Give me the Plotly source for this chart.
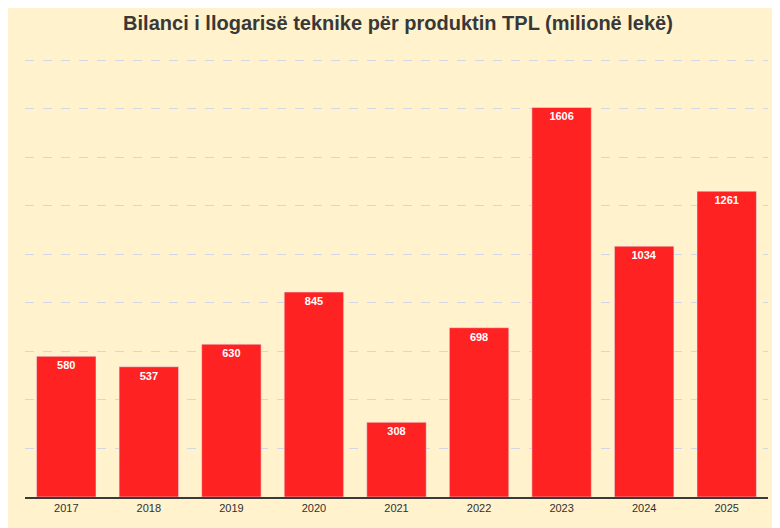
import plotly.graph_objects as go

years = ['2017', '2018', '2019', '2020', '2021', '2022', '2023', '2024', '2025']
values = [580, 537, 630, 845, 308, 698, 1606, 1034, 1261]

fig = go.Figure()
fig.add_trace(go.Bar(
    x=years, y=values, width=0.72,
    marker_color='#FF2222',
    text=[str(v) for v in values], textposition='inside',
    insidetextanchor='end',
    textfont=dict(color='white', size=11, family='Liberation Sans'),
    texttemplate='<b>%{text}</b>',
    cliponaxis=False,
))

fig.update_layout(
    width=780, height=528,
    paper_bgcolor='white', plot_bgcolor='rgba(0,0,0,0)',
    margin=dict(l=17, r=20, t=50, b=39, autoexpand=False),
    title=dict(text='<b>Bilanci i llogarisë teknike për produktin TPL (milionë lekë)</b>',
               x=0.5, xanchor='center', y=0.985, yanchor='top',
               font=dict(size=20, color='#383838', family='Liberation Sans')),
    xaxis=dict(showline=True, linecolor='#3a3a3a', linewidth=2, ticks='', automargin=False,
               tickfont=dict(size=11, color='#303030', family='Liberation Sans')),
    yaxis=dict(range=[0, 1810], dtick=200, showticklabels=False, automargin=False,
               gridcolor='#D0D8E8', griddash='dash', zeroline=False),
    showlegend=False,
    shapes=[dict(type='rect', xref='paper', yref='paper', layer='below',
                 x0=-17 / 743, x1=(772 - 17) / 743, y0=-(520 - 489) / 439, y1=50 / 439 + 1,
                 fillcolor='#FFF2CC', line_width=0)],
)

fig.write_html('out.html')
